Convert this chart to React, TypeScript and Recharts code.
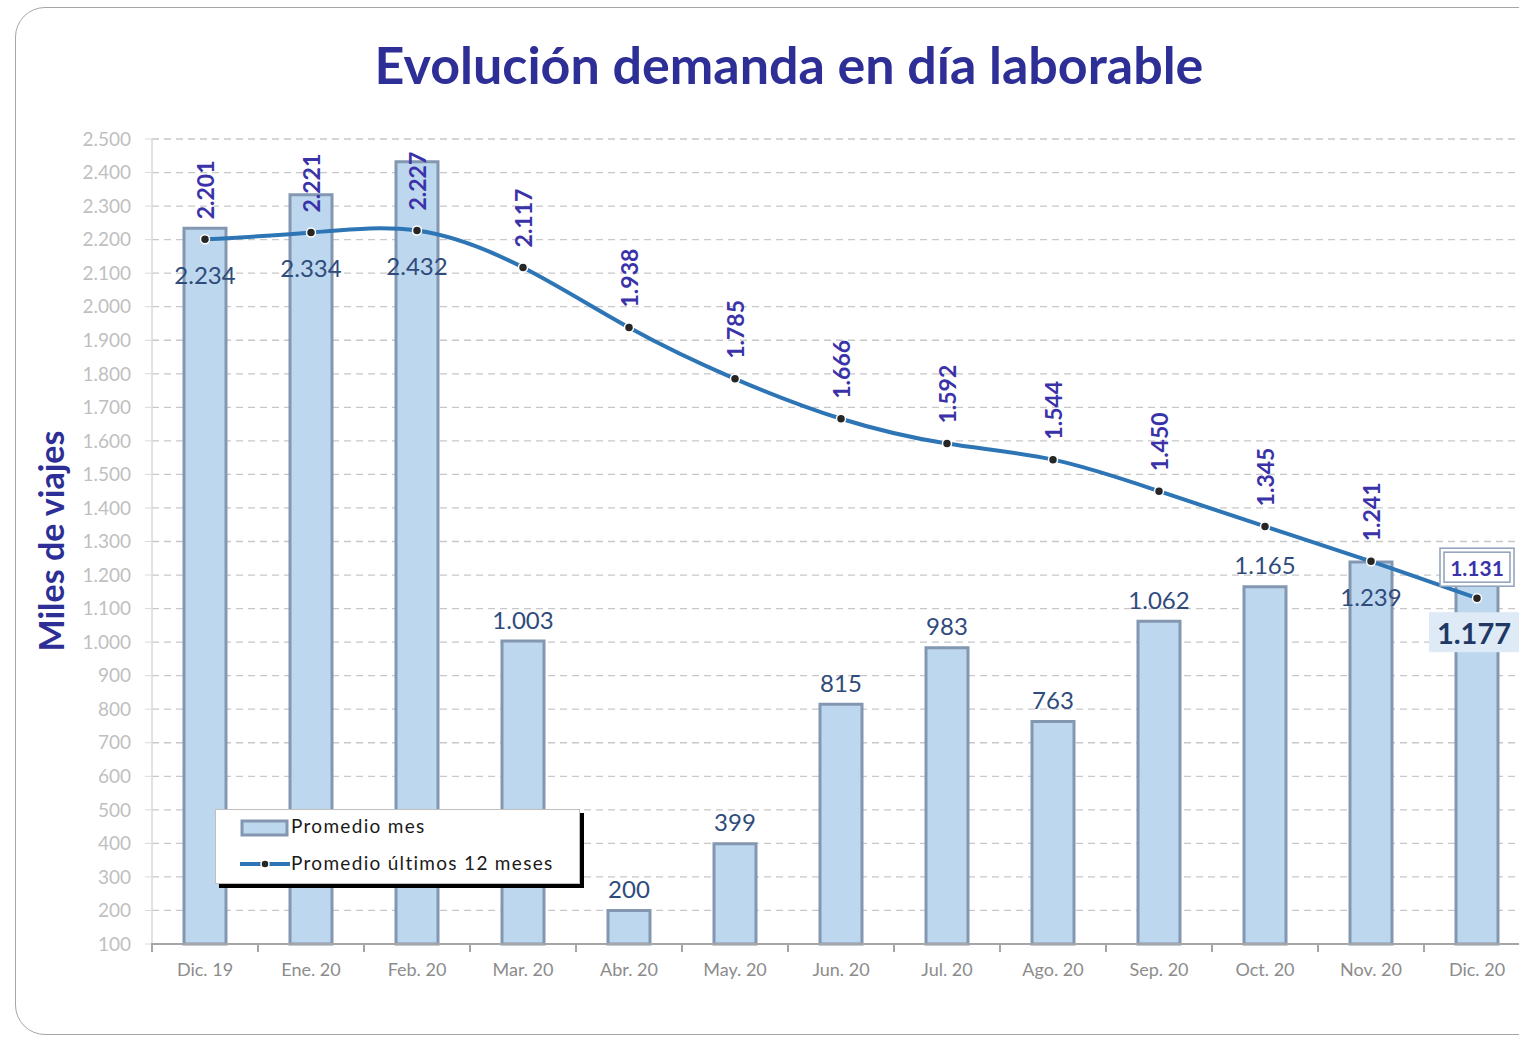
import React from "react";
import { ComposedChart, Bar, Line, XAxis, YAxis, CartesianGrid, LabelList, Legend } from "recharts";

const MONTHS = ["Dic. 19", "Ene. 20", "Feb. 20", "Mar. 20", "Abr. 20", "May. 20", "Jun. 20", "Jul. 20", "Ago. 20", "Sep. 20", "Oct. 20", "Nov. 20", "Dic. 20"];
const MONTHLY_AVG = [2234, 2334, 2432, 1003, 200, 399, 815, 983, 763, 1062, 1165, 1239, 1177];
const ROLLING_12M = [2201, 2221, 2227, 2117, 1938, 1785, 1666, 1592, 1544, 1450, 1345, 1241, 1131];
const Y_TICKS = [100, 200, 300, 400, 500, 600, 700, 800, 900, 1000, 1100, 1200, 1300, 1400, 1500, 1600, 1700, 1800, 1900, 2000, 2100, 2200, 2300, 2400, 2500];

const Y_MIN = 100;
const Y_MAX = 2500;
const CHART_W = 1560;
const CHART_H = 1037;
const X_AXIS_H = 30;
const MARGIN = { top: 139, right: 30, bottom: 1037 - 944 - X_AXIS_H, left: 0 };
const Y_AXIS_W = 152;
const BAND = (CHART_W - MARGIN.left - MARGIN.right - Y_AXIS_W) / MONTHS.length;

const FONT = "Lato, 'Open Sans', sans-serif";
const INDIGO = "#2E2F96";
const BAR_FILL = "#BDD7EE";
const BAR_STROKE = "#8497B0";
const LINE_BLUE = "#2E75B6";
const LAST = MONTHS.length - 1;

const data = MONTHS.map((m, i) => ({ month: m, mes: MONTHLY_AVG[i], doce: ROLLING_12M[i] }));

const fmt = (v: number) => String(Math.round(v)).replace(/\B(?=(\d{3})+(?!\d))/g, ".");

function XTick(props: any) {
  const { x, y, payload, index } = props;
  const left = x - BAND / 2;
  return (
    <g>
      <line x1={left} x2={left} y1={y - 9} y2={y} stroke="#A6A6A6" strokeWidth={2} />
      {index === LAST && (
        <line x1={x + BAND / 2} x2={x + BAND / 2} y1={y - 9} y2={y} stroke="#A6A6A6" strokeWidth={2} />
      )}
      <text x={x} y={y + 17} textAnchor="middle" dominantBaseline="central" fill="#8C8C8C" fontSize={18} fontFamily={FONT}>
        {payload.value}
      </text>
    </g>
  );
}

function BarValueLabel(props: any) {
  const { x, y, width, height, value, index } = props;
  const line = ROLLING_12M[index];
  const bottom = y + height;
  const pxPerUnit = height / (value - Y_MIN);
  const lineY = bottom - (line - Y_MIN) * pxPerUnit;
  const cx = x + width / 2;
  if (index === LAST) {
    const cy = lineY + 34;
    return (
      <g>
        <rect x={cx - 48} y={cy - 20} width={100} height={40} fill="#DEEAF6" />
        <text x={cx - 3} y={cy} textAnchor="middle" dominantBaseline="central" fill="#1F3864" fontSize={29} fontWeight={700} fontFamily={FONT}>
          {fmt(value)}
        </text>
      </g>
    );
  }
  const below = value >= line - 50;
  const cy = below ? lineY + 35 : y - 22;
  return (
    <text x={cx} y={cy} textAnchor="middle" dominantBaseline="central" fill="#2F4B7C" fontSize={24} fontFamily={FONT}>
      {fmt(value)}
    </text>
  );
}

function LineValueLabel(props: any) {
  const { x, y, value, index } = props;
  if (index === LAST) {
    const cy = y - 31;
    return (
      <g>
        <rect x={x - 37} y={cy - 19} width={74} height={38} fill="#fff" stroke="#8EA0B8" strokeWidth={1.5} />
        <rect x={x - 33} y={cy - 15} width={66} height={30} fill="#fff" stroke="#8EA0B8" strokeWidth={1.5} />
        <text x={x} y={cy} textAnchor="middle" dominantBaseline="central" fill="#3A32A8" fontSize={21} fontWeight={700} fontFamily={FONT}>
          {fmt(value)}
        </text>
      </g>
    );
  }
  const ty = y - 20;
  return (
    <text
      x={x}
      y={ty}
      transform={`rotate(-90 ${x} ${ty})`}
      textAnchor="start"
      dominantBaseline="central"
      fill="#3A32A8"
      fontSize={23}
      fontWeight={700}
      fontFamily={FONT}
    >
      {fmt(value)}
    </text>
  );
}

function Dot(props: any) {
  const { cx, cy } = props;
  return <circle cx={cx} cy={cy} r={4.5} fill="#262626" stroke="#fff" strokeWidth={1.5} />;
}

function LegendBox() {
  return (
    <div
      style={{
        width: 365,
        height: 75,
        background: "#fff",
        border: "1px solid #BFBFBF",
        boxShadow: "4px 4px 0 #000",
        fontFamily: FONT,
        fontSize: 19,
        letterSpacing: 1.3,
        color: "#1a1a1a",
        position: "relative",
        boxSizing: "border-box",
      }}
    >
      <svg width={60} height={75} style={{ position: "absolute", left: 20, top: 0 }}>
        <rect x={6} y={11} width={45} height={14} fill={BAR_FILL} stroke={BAR_STROKE} strokeWidth={3} />
        <line x1={4} x2={54} y1={54} y2={54} stroke={LINE_BLUE} strokeWidth={4} />
        <circle cx={29} cy={54} r={4} fill="#262626" stroke="#fff" strokeWidth={1.5} />
      </svg>
      <div style={{ position: "absolute", left: 75, top: 4 }}>Promedio mes</div>
      <div style={{ position: "absolute", left: 75, top: 41 }}>Promedio últimos 12 meses</div>
    </div>
  );
}

export default function App() {
  return (
    <div style={{ position: "absolute", left: 0, top: 0, width: 1519, height: 1037, overflow: "hidden", background: "#fff" }}>
      <div
        style={{
          position: "absolute",
          left: 15,
          top: 7,
          width: 1560,
          height: 1028,
          border: "1.5px solid #A6A6A6",
          borderRadius: 30,
          boxSizing: "border-box",
        }}
      />
      <div
        style={{
          position: "absolute",
          left: 0,
          width: 1578,
          top: 32,
          textAlign: "center",
          fontFamily: FONT,
          fontWeight: 700,
          fontSize: 52,
          color: INDIGO,
          lineHeight: "64px",
        }}
      >
        Evolución demanda en día laborable
      </div>
      <div
        style={{
          position: "absolute",
          left: 50,
          top: 541,
          transform: "translate(-50%, -50%) rotate(-90deg)",
          whiteSpace: "nowrap",
          fontFamily: FONT,
          fontWeight: 700,
          fontSize: 34,
          color: INDIGO,
        }}
      >
        Miles de viajes
      </div>
      <div style={{ position: "absolute", left: 0, top: 0 }}>
        <ComposedChart width={CHART_W} height={CHART_H} data={data} margin={MARGIN} barCategoryGap={0}>
          <CartesianGrid vertical={false} stroke="#C8C8C8" strokeDasharray="7 5" strokeWidth={1.3} />
          <XAxis
            dataKey="month"
            height={X_AXIS_H}
            axisLine={{ stroke: "#A6A6A6", strokeWidth: 2 }}
            tickLine={false}
            tick={<XTick />}
            interval={0}
          />
          <YAxis
            width={Y_AXIS_W}
            domain={[Y_MIN, Y_MAX]}
            ticks={Y_TICKS}
            interval={0}
            tickFormatter={fmt}
            axisLine={{ stroke: "#D9D9D9", strokeWidth: 1.5 }}
            tickLine={{ stroke: "#D9D9D9" }}
            tickSize={7}
            tickMargin={14}
            tick={{ fill: "#BFBFBF", fontSize: 19, fontFamily: FONT }}
          />
          <Legend
            layout="horizontal"
            verticalAlign="middle"
            align="center"
            content={() => <LegendBox />}
            wrapperStyle={{ left: 215, top: 809, width: 365, height: 75 }}
          />
          <Bar dataKey="mes" name="Promedio mes" barSize={42} fill={BAR_FILL} stroke={BAR_STROKE} strokeWidth={3} isAnimationActive={false}>
            <LabelList dataKey="mes" content={<BarValueLabel />} />
          </Bar>
          <Line
            dataKey="doce"
            name="Promedio últimos 12 meses"
            type="natural"
            stroke={LINE_BLUE}
            strokeWidth={4}
            dot={<Dot />}
            activeDot={false}
            isAnimationActive={false}
          >
            <LabelList dataKey="doce" content={<LineValueLabel />} />
          </Line>
        </ComposedChart>
      </div>
    </div>
  );
}
